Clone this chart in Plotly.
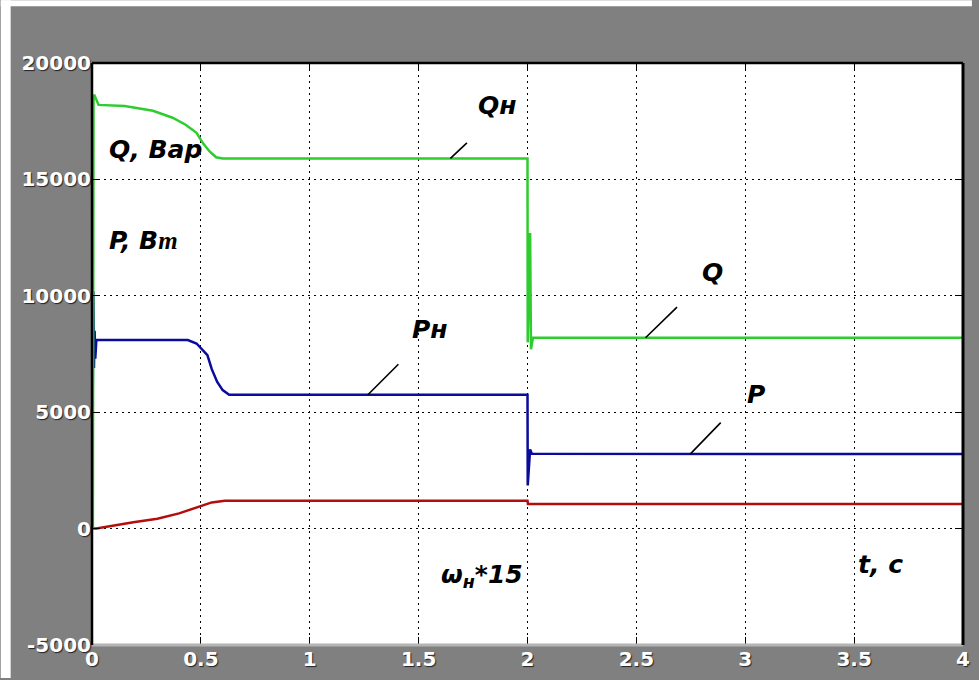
import plotly.graph_objects as go

# Reactive power Q (var): start-up transient, load drop at t = 2 s
t_q = [0, 0.004, 0.007, 0.012, 0.030, 0.15, 0.28, 0.37, 0.43, 0.48, 0.51, 0.54, 0.57, 0.60,
       2.0, 2.001, 2.012, 2.016, 2.025, 4.0]
q_var = [0, 0, 18600, 18600, 18200, 18150, 17950, 17650, 17350, 17000, 16550, 16200, 15950, 15900,
         15900, 8000, 12700, 7700, 8200, 8200]

# Active power P (W)
t_p = [0, 0.006, 0.009, 0.012, 0.015, 0.020, 0.05, 0.44, 0.48, 0.53, 0.55, 0.575, 0.60, 0.63,
       2.0, 2.001, 2.012, 2.020, 4.0]
p_w = [0, 10200, 6900, 8500, 7300, 8100, 8100, 8100, 7950, 7450, 6850, 6300, 5950, 5750,
       5750, 1850, 3400, 3220, 3200]

# Load speed, scaled by 15
t_w = [0, 0.02, 0.19, 0.30, 0.40, 0.49, 0.55, 0.61, 2.0, 2.002, 4.0]
omega_x15 = [0, 0, 270, 420, 655, 940, 1125, 1200, 1200, 1060, 1060]

x_ticks = [0, 0.5, 1, 1.5, 2, 2.5, 3, 3.5, 4]
x_labels = ["0", "0.5", "1", "1.5", "2", "2.5", "3", "3.5", "4"]
y_ticks = [-5000, 0, 5000, 10000, 15000, 20000]
y_labels = ["-5000", "0", "5000", "10000", "15000", "20000"]

GREEN = "#2ecc2e"
BLUE = "#0a0a9c"
RED = "#b30d0d"
PANEL = "#808080"

fig = go.Figure()
fig.add_trace(go.Scatter(x=t_w, y=omega_x15, mode="lines",
                         line=dict(color=RED, width=2.5), hoverinfo="skip"))
fig.add_trace(go.Scatter(x=t_p, y=p_w, mode="lines",
                         line=dict(color=BLUE, width=2.5), hoverinfo="skip"))
fig.add_trace(go.Scatter(x=t_q, y=q_var, mode="lines",
                         line=dict(color=GREEN, width=2.5), hoverinfo="skip"))

tick_font = dict(family="DejaVu Sans", size=20, color="white", weight="bold",
                 shadow="1px 1px 1px #222")
lbl_font = dict(family="DejaVu Sans", size=25, color="black", weight="bold", style="italic")

axis_common = dict(showgrid=True, gridcolor="#000000", gridwidth=1, griddash="2px,4px",
                   zeroline=False, showline=False, ticks="inside", ticklen=8,
                   tickcolor="black", tickwidth=1, mirror="ticks", tickfont=tick_font)

fig.update_xaxes(range=[0, 4], tickvals=x_ticks, ticktext=x_labels, **axis_common)
fig.update_yaxes(range=[-5000, 20000], tickvals=y_ticks, ticktext=y_labels,
                 ticklabelstandoff=0, **axis_common)

# Italic serif form of the Cyrillic "т" in the watt unit
TE = "<span style='font-family:Liberation Serif'>т</span>"

# Text labels on the curves
labels = [
    ("Q, Вар", 0.068, 16270, "left"),
    ("P, В" + TE, 0.068, 12370, "left"),
    ("Qн", 1.86, 18190, "center"),
    ("Pн", 1.55, 8560, "center"),
    ("Q", 2.85, 11000, "center"),
    ("P", 3.05, 5780, "center"),
    ("ω<sub>н</sub>*15", 1.79, -2050, "center"),
    ("t, c", 3.62, -1540, "center"),
]
for text, x, y, anchor in labels:
    fig.add_annotation(x=x, y=y, text=text, showarrow=False, xanchor=anchor,
                       yanchor="middle", font=lbl_font)

# Leader strokes from the labels to their curves
leaders = [(1.646, 15900, 18, -17), (1.267, 5750, 32, -32),
           (2.542, 8200, 33, -32), (2.747, 3200, 32, -33)]
for x, y, ax, ay in leaders:
    fig.add_annotation(x=x, y=y, ax=ax, ay=ay, text="", showarrow=True, arrowhead=0,
                       arrowwidth=1.6, arrowcolor="black", standoff=0, startstandoff=0)

# Panel frame: white outer strips and the box round the plot area
W, H = 979, 680
L, R, T, B = 92, 9, 63, 33
pw, ph = W - L - R, H - T - B
def px(x):
    return (x - L) / pw
def py(y):
    return (H - B - y) / ph

shapes = [
    dict(type="rect", xref="paper", yref="paper", x0=px(0), x1=px(W), y0=py(6), y1=py(0),
         fillcolor="white", line_width=0, layer="below"),
    dict(type="rect", xref="paper", yref="paper", x0=px(0), x1=px(10), y0=py(H), y1=py(0),
         fillcolor="white", line_width=0, layer="below"),
    dict(type="line", xref="paper", yref="paper", x0=0, x1=1, y0=0, y1=0,
         line=dict(color="#b4b4b4", width=3), layer="above"),
    dict(type="line", xref="paper", yref="paper", x0=0, x1=1, y0=1, y1=1,
         line=dict(color="black", width=2.5), layer="above"),
    dict(type="line", xref="paper", yref="paper", x0=0, x1=0, y0=0, y1=1,
         line=dict(color="black", width=2.5), layer="above"),
    dict(type="line", xref="paper", yref="paper", x0=1, x1=1, y0=0, y1=1,
         line=dict(color="black", width=3), layer="above"),
]

fig.update_layout(width=W, height=H, margin=dict(l=L, r=R, t=T, b=B),
                  paper_bgcolor=PANEL, plot_bgcolor="white", showlegend=False,
                  shapes=shapes)

fig.write_html("out.html")
